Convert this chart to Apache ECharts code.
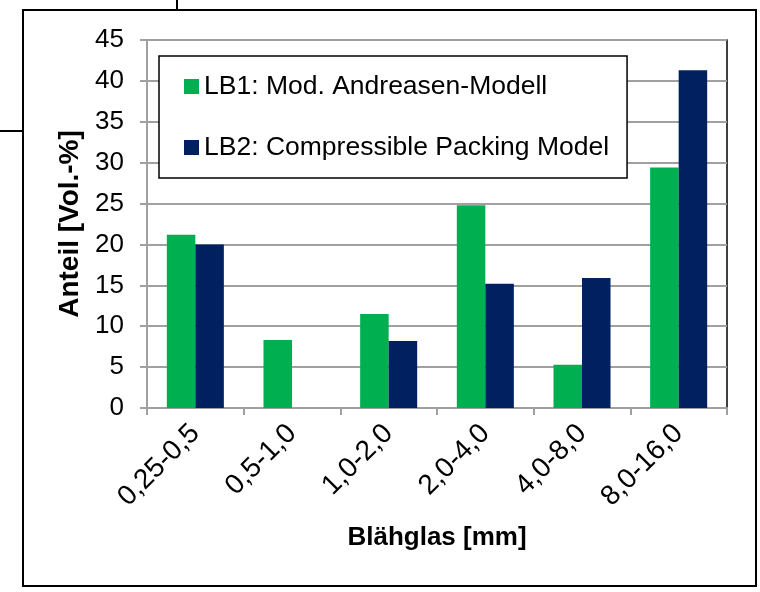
<!DOCTYPE html>
<html>
<head>
<meta charset="utf-8">
<script src="https://cdn.jsdelivr.net/npm/echarts@6/dist/echarts.min.js"></script>
<style>
  html, body { margin: 0; padding: 0; background: #fff; }
  #chart { width: 760px; height: 592px; }
</style>
</head>
<body>
<div id="chart"></div>
<script>
// Blähglas Kornklassen
var categories = ['0,25-0,5', '0,5-1,0', '1,0-2,0', '2,0-4,0', '4,0-8,0', '8,0-16,0']
var lb1Name = 'LB1: Mod. Andreasen-Modell'
var lb2Name = 'LB2: Compressible Packing Model'
var lb1Values = [21.2, 8.3, 11.5, 24.8, 5.3, 29.4]
var lb2Values = [20.0, 0, 8.2, 15.2, 15.9, 41.3]
var yTicks = { min: 0, max: 45, interval: 5 }

var chart = echarts.init(document.getElementById('chart'))
var font = 'Liberation Sans, Arial, sans-serif'

var option = {
  animation: false,
  textStyle: { fontFamily: font },
  grid: {
    left: 147,
    right: 33,
    top: 40,
    bottom: 184,
    show: true,
    borderColor: '#000',
    borderWidth: 1.5,
    backgroundColor: '#fff'
  },
  legend: {
    orient: 'vertical',
    left: 159,
    top: 56,
    padding: [17, 18, 17, 25],
    itemGap: 34,
    itemWidth: 15,
    itemHeight: 15,
    itemStyle: { borderWidth: 0 },
    icon: 'rect',
    backgroundColor: '#fff',
    borderColor: '#000',
    borderWidth: 1.5,
    textStyle: { fontSize: 26.5, color: '#000', fontFamily: font },
    data: [lb1Name, lb2Name]
  },
  xAxis: {
    type: 'category',
    data: categories,
    name: 'Blähglas [mm]',
    nameLocation: 'middle',
    nameGap: 117,
    nameTextStyle: { fontSize: 26, fontWeight: 'bold', color: '#000' },
    axisLine: { lineStyle: { color: '#a0a0a0', width: 2 } },
    axisTick: { show: true, length: 7, lineStyle: { color: '#a0a0a0', width: 2 } },
    axisLabel: { rotate: 45, fontSize: 28, color: '#000', margin: 21 },
    splitLine: { show: false }
  },
  yAxis: {
    type: 'value',
    min: yTicks.min,
    max: yTicks.max,
    interval: yTicks.interval,
    name: 'Anteil [Vol.-%]',
    nameLocation: 'middle',
    nameGap: 52,
    nameTextStyle: { fontSize: 28, fontWeight: 'bold', color: '#000' },
    axisLine: { show: true, lineStyle: { color: '#a0a0a0', width: 2 } },
    axisTick: { show: true, length: 7, lineStyle: { color: '#a0a0a0', width: 2 } },
    axisLabel: { fontSize: 26, color: '#000', margin: 23 },
    splitLine: { show: true, lineStyle: { color: '#a0a0a0', width: 2 } }
  },
  series: [
    {
      name: lb1Name,
      type: 'bar',
      data: lb1Values,
      barGap: '0%',
      barCategoryGap: '41%',
      itemStyle: { color: '#00b050' }
    },
    {
      name: lb2Name,
      type: 'bar',
      data: lb2Values,
      barGap: '0%',
      barCategoryGap: '41%',
      itemStyle: { color: '#002060' }
    }
  ],
  // Rahmen und Reste vom Dokument
  graphic: [
    { type: 'rect', shape: { x: 23, y: 10, width: 733, height: 576 }, style: { fill: null, stroke: '#000', lineWidth: 2 }, z: -1 },
    { type: 'line', shape: { x1: 177, y1: 0, x2: 177, y2: 10 }, style: { stroke: '#000', lineWidth: 2 } },
    { type: 'line', shape: { x1: 0, y1: 131, x2: 23, y2: 131 }, style: { stroke: '#000', lineWidth: 2 } }
  ]
}

chart.setOption(option)
</script>
</body>
</html>
